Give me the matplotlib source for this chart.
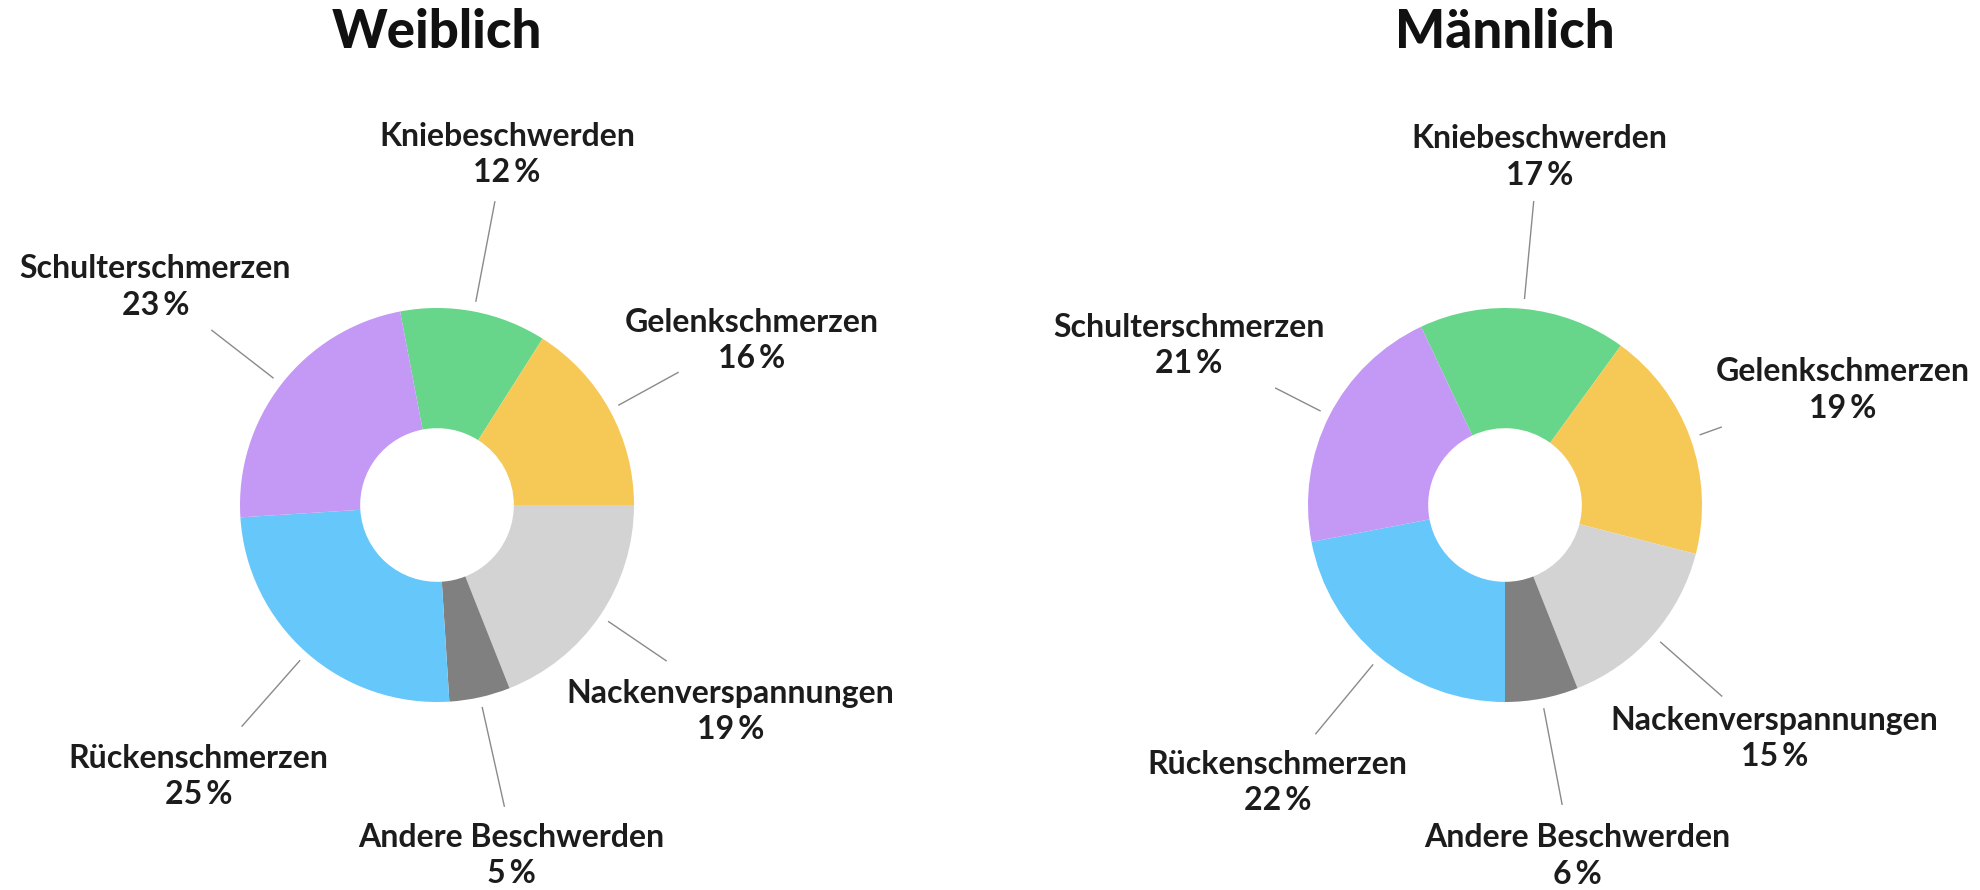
import numpy as np
import matplotlib.pyplot as plt

plt.rcParams['font.family'] = ['Lato', 'DejaVu Sans']

# data
categories = ['Kniebeschwerden', 'Gelenkschmerzen', 'Nackenverspannungen',
              'Andere Beschwerden', 'Rückenschmerzen', 'Schulterschmerzen']
weiblich = [12, 16, 19, 5, 25, 23]
maennlich = [17, 19, 15, 6, 22, 21]
colors = ['#67D68A', '#F6C855', '#D3D3D3', '#808080', '#66C7FA', '#C498F5']

# layout: (end radius of leader line, text dx px, text dy px (down))
left_layout = [(1.57, 12, -47), (1.40, 73, -32), (1.41, 64, 50),
               (1.57, 7, 49), (1.50, -43, 50), (1.45, -56, -43)]
right_layout = [(1.55, 6, -44), (1.17, 121, -37), (1.47, 52, 42),
                (1.55, 15, 51), (1.51, -38, 48), (1.31, -86, -42)]

W, H = 1980, 890
R = 197.0
CY = 505  # donut centre, px from top

fig = plt.figure(figsize=(W / 100, H / 100), dpi=100)


def donut(x0, cx, title, values, start, layout):
    ax = fig.add_axes([x0 / W, 0, 990 / W, 1])
    ax.pie(values, colors=colors, startangle=start, counterclock=False,
           radius=1, wedgeprops=dict(width=0.61, linewidth=0))
    lx = cx - x0
    ax.set_xlim(-lx / R, (990 - lx) / R)
    ax.set_ylim(-(H - CY) / R, CY / R)
    ax.set_aspect('auto')
    ax.axis('off')

    total = float(sum(values))
    cum = np.cumsum(values) - np.array(values) / 2.0
    for i, v in enumerate(values):
        th = np.deg2rad(start - 360 * cum[i] / total)
        r_end, dx, dy = layout[i]
        ax.plot([1.05 * np.cos(th), r_end * np.cos(th)],
                [1.05 * np.sin(th), r_end * np.sin(th)],
                color='#8a8a8a', lw=1.0, solid_capstyle='butt')
        tx = r_end * np.cos(th) + dx / R
        ty = r_end * np.sin(th) - dy / R
        ax.text(tx, ty, '%s\n%d\u2009%%' % (categories[i], v), ha='center',
                va='center', fontsize=23, fontweight='bold', color='#1c1c1c',
                linespacing=1.3, multialignment='center')

    ax.text(0, (CY - 33) / R, title, ha='center', va='center',
            fontsize=38, fontweight='black', color='#111111')


donut(0, 437, 'Weiblich', weiblich, 100.8, left_layout)
donut(990, 1505, 'Männlich', maennlich, 115.2, right_layout)

fig.savefig('out.png', dpi=100, facecolor='white')
